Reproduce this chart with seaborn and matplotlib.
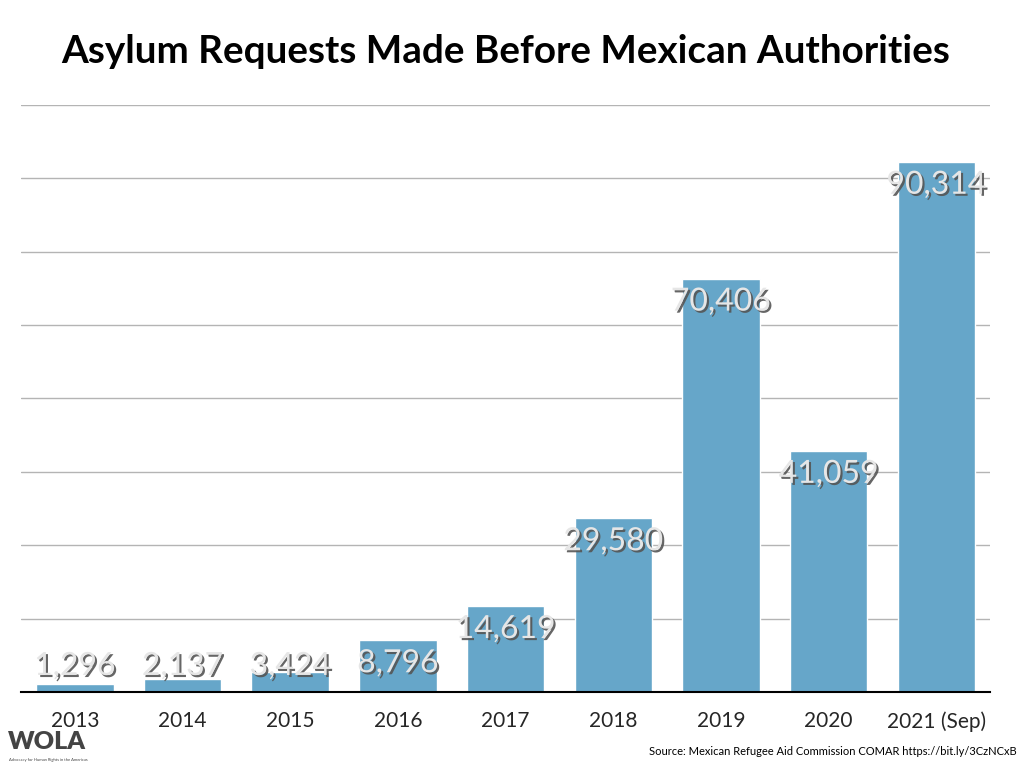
import matplotlib
matplotlib.use('Agg')
import matplotlib.pyplot as plt
import matplotlib.patheffects as pe
import seaborn as sns
import pandas as pd

# data
years = ['2013', '2014', '2015', '2016', '2017', '2018', '2019', '2020', '2021 (Sep)']
requests = [1296, 2137, 3424, 8796, 14619, 29580, 70406, 41059, 90314]

sns.set_style('white')
plt.rcParams['font.family'] = ['Lato', 'DejaVu Sans']

df = pd.DataFrame({'year': years, 'requests': requests})

fig = plt.figure(figsize=(10.24, 7.68), dpi=100)
ax = fig.add_axes([0.0205, 0.099, 0.9465, 0.7643])

sns.barplot(data=df, x='year', y='requests', color='#66a6c9', saturation=1,
            width=0.72, ax=ax, zorder=2)

ax.set_ylim(0, 100000)
ax.set_xlim(-0.5, len(years) - 0.5)
ax.set_yticks(range(0, 100001, 12500))
ax.yaxis.grid(True, color='#b4b4b4', linewidth=1, zorder=0)
ax.set_axisbelow(True)
ax.set_yticklabels([])
ax.tick_params(axis='y', length=0)
ax.tick_params(axis='x', length=0, labelsize=15, pad=14)
ax.set_xlabel('')
ax.set_ylabel('')
for side in ['top', 'left', 'right']:
    ax.spines[side].set_visible(False)
ax.spines['bottom'].set_color('black')
ax.spines['bottom'].set_linewidth(1.5)
ax.spines['bottom'].set_zorder(5)

shadow = [pe.SimplePatchShadow(offset=(1.5, -1.5), shadow_rgbFace='#555555', alpha=0.9),
          pe.Normal()]
for i, v in enumerate(requests):
    ax.text(i, max(v - 3900, 4430), f'{v:,}', ha='center', va='center',
            fontsize=23, color='#e6e6e6', path_effects=shadow, zorder=6)

fig.text(0.494, 0.933, 'Asylum Requests Made Before Mexican Authorities',
         ha='center', va='center', fontsize=27.8, fontweight='bold', color='black')

fig.text(0.993, 0.014, 'Source: Mexican Refugee Aid Commission COMAR https://bit.ly/3CzNCxB',
         ha='right', va='bottom', fontsize=8, color='black')

fig.text(0.008, 0.020, 'WOLA', ha='left', va='bottom', fontsize=18,
         fontweight='heavy', color='#444444')
fig.text(0.009, 0.008, 'Advocacy for Human Rights in the Americas', ha='left',
         va='bottom', fontsize=3, color='#444444')

fig.savefig('out.png', dpi=100)
plt.close(fig)
